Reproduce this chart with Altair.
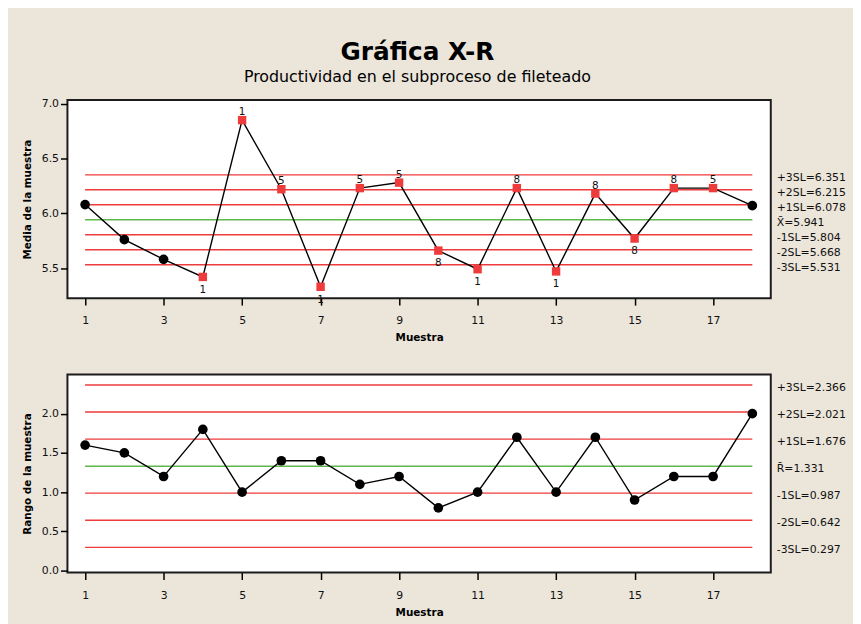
import altair as alt
import pandas as pd

# ---- data ----
muestra = list(range(1, 19))
media = [6.08, 5.76, 5.58, 5.42, 6.85, 6.22, 5.33, 6.23, 6.28, 5.66,
         5.49, 6.23, 5.47, 6.18, 5.77, 6.23, 6.23, 6.07]
rango = [1.6, 1.5, 1.2, 1.8, 1.0, 1.4, 1.4, 1.1, 1.2, 0.8,
         1.0, 1.7, 1.0, 1.7, 0.9, 1.2, 1.2, 2.0]
senal = ["", "", "", "1", "1", "5", "1", "5", "5", "8",
         "1", "8", "1", "8", "8", "8", "5", ""]

xbar_lim = [6.351, 6.215, 6.078, 5.941, 5.804, 5.668, 5.531]
xbar_lab = ["+3SL=6.351", "+2SL=6.215", "+1SL=6.078", "X\u0304=5.941",
            "-1SL=5.804", "-2SL=5.668", "-3SL=5.531"]
r_lim = [2.366, 2.021, 1.676, 1.331, 0.987, 0.642, 0.297]
r_lab = ["+3SL=2.366", "+2SL=2.021", "+1SL=1.676", "R\u0304=1.331",
         "-1SL=0.987", "-2SL=0.642", "-3SL=0.297"]
x_ticks = [1, 3, 5, 7, 9, 11, 13, 15, 17]
xbar_ticks = [5.5, 6.0, 6.5, 7.0]
r_ticks = [0.0, 0.5, 1.0, 1.5, 2.0]

FONT = "DejaVu Sans"
RED = "#EE3B3B"
GREEN = "#5DB84B"
W, H = 710, 200

df = pd.DataFrame({"Muestra": muestra, "Media": media, "Rango": rango, "Senal": senal})
center_x = xbar_lim[3]
df["marcado"] = df["Senal"].apply(lambda s: "si" if s else "no")
df["arriba"] = df["Media"].apply(lambda v: "si" if v > center_x else "no")

xscale = alt.Scale(domain=[0.55, 18.47], nice=False, zero=False)
xaxis = alt.Axis(values=x_ticks, format="d", title="Muestra")


def limits_df(lims, labs):
    return pd.DataFrame({
        "lim": lims,
        "label": labs,
        "tipo": ["centro" if i == 3 else "limite" for i in range(len(lims))],
    })


def panel(col, ytitle, ydomain, yticks, lims, labs, flagged):
    yscale = alt.Scale(domain=ydomain, nice=False, zero=False)
    yaxis = alt.Axis(values=yticks, format=".1f", title=ytitle)
    ldf = limits_df(lims, labs)
    base = alt.Chart(df)
    X = alt.X("Muestra:Q", scale=xscale, axis=xaxis)
    Y = alt.Y(f"{col}:Q", scale=yscale, axis=yaxis)

    rules_red = alt.Chart(ldf).transform_filter("datum.tipo == 'limite'").mark_rule(
        color=RED, strokeWidth=1.4).encode(
        x=alt.datum(1), x2=alt.datum(18), y=alt.Y("lim:Q", scale=yscale, axis=yaxis))
    rules_green = alt.Chart(ldf).transform_filter("datum.tipo == 'centro'").mark_rule(
        color=GREEN, strokeWidth=1.4).encode(
        x=alt.datum(1), x2=alt.datum(18), y=alt.Y("lim:Q", scale=yscale, axis=yaxis))
    lim_text = alt.Chart(ldf).mark_text(
        align="left", baseline="middle", dy=3, fontSize=11, font=FONT, color="#111"
    ).encode(x=alt.value(W + 6), y=alt.Y("lim:Q", scale=yscale), text="label:N")

    line = base.mark_line(color="black", strokeWidth=1.4).encode(x=X, y=Y)
    circles = base.mark_point(filled=True, shape="circle", size=95, color="black",
                              opacity=1).encode(x=X, y=Y)
    layers = [rules_red, rules_green, line]
    if flagged:
        circles = circles.transform_filter("datum.marcado == 'no'")
        squares = base.transform_filter("datum.marcado == 'si'").mark_point(
            filled=True, shape="square", size=72, color=RED, opacity=1).encode(x=X, y=Y)
        up = base.transform_filter("datum.marcado == 'si' && datum.arriba == 'si'").mark_text(
            baseline="middle", dy=-8, fontSize=10.5, font=FONT, color="#111"
        ).encode(x=X, y=Y, text="Senal:N")
        down = base.transform_filter("datum.marcado == 'si' && datum.arriba == 'no'").mark_text(
            baseline="middle", dy=13, fontSize=10.5, font=FONT, color="#111"
        ).encode(x=X, y=Y, text="Senal:N")
        layers += [circles, squares, up, down]
    else:
        layers += [circles]
    layers.append(lim_text)
    return alt.layer(*layers).properties(width=W, height=H)


top = panel("Media", "Media de la muestra", [5.226, 7.033], xbar_ticks, xbar_lim, xbar_lab, True)
bottom = panel("Rango", "Rango de la muestra", [-0.025, 2.5], r_ticks, r_lim, r_lab, False)

chart = alt.vconcat(top, bottom, spacing=29).properties(
    title=alt.TitleParams(
        text="Gráfica X-R",
        subtitle="Productividad en el subproceso de fileteado",
        font=FONT, fontSize=25, fontWeight="bold", color="black",
        subtitleFont=FONT, subtitleFontSize=16, subtitleColor="black",
        subtitlePadding=4, anchor="middle", offset=12, dx=-17,
    ),
    padding={"left": 13, "top": 29, "right": 5, "bottom": 5},
    background="#EBE5DA",
).configure_view(
    stroke="#1c1c1c", strokeWidth=2, fill="white"
).configure_axis(
    domain=False, grid=False, ticks=True, tickSize=7, tickColor="black", tickWidth=1.5,
    labelFont=FONT, labelFontSize=11, labelColor="#111", labelPadding=2,
    titleFont=FONT, titleFontSize=10.5, titleFontWeight="bold", titleColor="black",
).configure_axisX(
    labelPadding=10, titlePadding=7
).configure_axisY(
    titlePadding=9
)

chart.save("out.html", embed_options={"renderer": "svg", "actions": False})
